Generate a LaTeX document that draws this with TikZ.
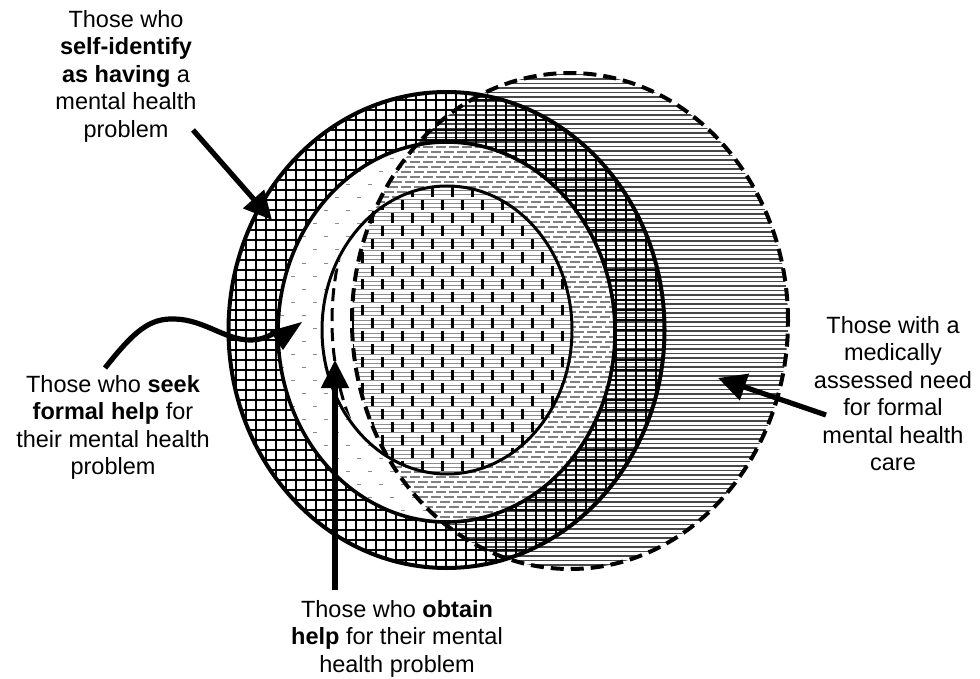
\documentclass[tikz,border=0pt]{standalone}
\usepackage{fontspec}
\setmainfont{Liberation Sans}
\usetikzlibrary{arrows.meta}
\begin{document}
\begin{tikzpicture}[x=1pt,y=-1pt,
  lbl/.style={align=center, inner sep=0pt, anchor=north, font=\fontsize{23.5pt}{27.5pt}\selectfont},
  arr/.style={line width=5.2pt, -{Triangle[length=28pt,width=27pt]}},
  plainarr/.style={line width=5.2pt},
  ringline/.style={line width=3.6pt},
  dashline/.style={line width=4pt, dash pattern=on 13pt off 7pt},
  greyline/.style={line width=1.9pt, black!72},
  lightline/.style={line width=1.2pt, black!50, dash pattern=on 10pt off 3pt},
  brickline/.style={line width=0.9pt, black!45},
  brickbar/.style={line width=3pt, black},
  speck/.style={line width=1pt, black!45},
  gridline/.style={line width=2.9pt, black}
]
\useasboundingbox (0,0) rectangle (980,679);
\fill[white] (0,0) rectangle (980,679);

% 1. medically assessed need: grey horizontal lines
\begin{scope}
  \clip (570,321) ellipse [x radius=218pt, y radius=248pt];
  \foreach \y in {70,74.5,...,575} \draw[greyline] (345,\y) -- (795,\y);
\end{scope}

% 2. self-identify: crosshatch
\begin{scope}
  \clip (446.5,330) ellipse [x radius=218pt, y radius=238pt];
  \foreach \x in {226,236,...,670} \draw[gridline] (\x,85) -- (\x,575);
  \foreach \y in {90,100,...,575} \draw[gridline] (220,\y) -- (670,\y);
\end{scope}

% 3. seek formal help: white with sparse specks
\fill[white] (446.5,332) ellipse [x radius=168.5pt, y radius=190pt];
\begin{scope}
  \clip (446.5,332) ellipse [x radius=168.5pt, y radius=190pt];
  \foreach \y [count=\i] in {146,159,...,520} {
    \pgfmathsetmacro{\off}{mod(\i,2)*11}
    \foreach \x in {280,302,...,615} \draw[speck] (\x+\off,\y) -- ++(4,0);
  }
\end{scope}

% 4. seek formal help AND medical need: light dashed lines
\begin{scope}
  \clip (446.5,332) ellipse [x radius=168.5pt, y radius=190pt];
  \clip (570,321) ellipse [x radius=218pt, y radius=248pt];
  \fill[white] (270,130) rectangle (620,530);
  \foreach \y [count=\i] in {142,147,...,525} {
    \pgfmathsetmacro{\ph}{mod(\i,3)*4}
    \draw[lightline, dash phase=\ph pt] (340,\y) -- (620,\y);
  }
\end{scope}

% 5. obtain help: white, brick pattern where need is assessed
\fill[white] (447,330) ellipse [x radius=125pt, y radius=144pt];
\begin{scope}
  \clip (447,330) ellipse [x radius=125pt, y radius=144pt];
  \clip (570,321) ellipse [x radius=218pt, y radius=248pt];
  \foreach \y in {186,190.33,...,476} \draw[brickline] (320,\y) -- (575,\y);
  \foreach \r in {0,...,22} {
    \pgfmathsetmacro{\yy}{186+13*\r}
    \pgfmathsetmacro{\off}{mod(\r,2)*10}
    \foreach \x in {312,332,...,580} \draw[brickbar] (\x+\off,\yy+1.5) -- (\x+\off,\yy+11.5);
  }
\end{scope}

% offset dashed trace inside inner circle
\begin{scope}
  \clip (447,330) ellipse [x radius=123pt, y radius=142pt];
  \draw[dashline, line width=3pt] (550,321) ellipse [x radius=218pt, y radius=248pt];
\end{scope}

% outlines
\draw[ringline, line width=4pt] (446.5,330) ellipse [x radius=218pt, y radius=238pt];
\draw[ringline] (446.5,332) ellipse [x radius=168.5pt, y radius=190pt];
\draw[ringline, line width=3pt] (447,330) ellipse [x radius=125pt, y radius=144pt];
\draw[dashline] (570,321) ellipse [x radius=218pt, y radius=248pt];

% labels
\node[lbl] (self) at (126,10) {Those who\\\textbf{self-identify}\\\textbf{as having} a\\mental health\\problem};
\node[lbl] (seek) at (113,375) {Those who \textbf{seek}\\\textbf{formal help} for\\their mental health\\problem};
\node[lbl] (obtain) at (397,600) {Those who \textbf{obtain}\\\textbf{help} for their mental\\health problem};
\node[lbl] (medical) at (893,316) {Those with a\\medically\\assessed need\\for formal\\mental health\\care};

% connectors
\coordinate (a1s) at (193,130);
\coordinate (a1e) at (272,220);
\coordinate (a2s) at (105,368);
\coordinate (a2e) at (274,333);
\coordinate (a3s) at (335,590);
\coordinate (a3e) at (335,360);
\coordinate (a4s) at (826,415);
\coordinate (a4e) at (718,378);

\draw[arr] (a1s) -- (a1e);
\draw[plainarr] (a2s) .. controls (135,330) and (150,318) .. (175,319)
   .. controls (205,320) and (225,340) .. (250,340)
   .. controls (260,340) and (268,337) .. (a2e);
\fill (a2e) ++(-4,-2) -- (302,322) -- (283,350) -- cycle;
\draw[arr] (a3s) -- (a3e);
\draw[arr] (a4s) -- (a4e);
\end{tikzpicture}
\end{document}
